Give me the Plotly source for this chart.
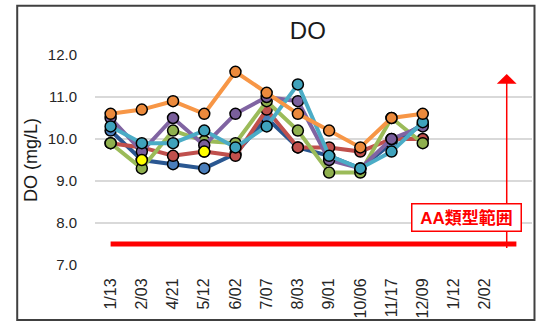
import plotly.graph_objects as go

categories = ["1/13", "2/03", "4/21", "5/12", "6/02", "7/07", "8/03", "9/01",
              "10/06", "11/17", "12/09", "1/12", "2/02"]

site_blue = [10.2, 9.5, 9.4, 9.3, 9.65, 10.5, 9.8, 9.6, 9.3, 9.9, 10.35, None, None]
site_red = [9.9, 9.8, 9.6, 9.7, 9.6, 10.7, 9.8, 9.8, 9.7, 10.0, 10.0, None, None]
site_green = [9.9, 9.3, 10.2, 9.95, 9.9, 10.9, 10.2, 9.2, 9.2, 10.5, 9.9, None, None]
site_purple = [10.5, 9.7, 10.5, 9.85, 10.6, 11.0, 10.9, 9.5, 9.3, 10.0, 10.3, None, None]
site_cyan = [10.3, 9.9, 9.9, 10.2, 9.8, 10.3, 11.3, 9.6, 9.3, 9.7, 10.4, None, None]
site_orange = [10.6, 10.7, 10.9, 10.6, 11.6, 11.1, 10.6, 10.2, 9.8, 10.5, 10.6, None, None]

flag_x = ["2/03", "5/12"]
flag_y = [9.5, 9.7]

standard_value = 7.5
standard_label = "AA類型範囲"

FONT = "Liberation Sans, Arial, Noto Sans CJK JP"

series = [
    (site_blue, "#2A5791", "#4A7EBB"),
    (site_red, "#C0504D", "#C0504D"),
    (site_green, "#9BBB59", "#8FB04E"),
    (site_purple, "#8064A2", "#7A5F9C"),
    (site_cyan, "#4BACC6", "#3FA2BC"),
    (site_orange, "#F79646", "#EC8A3C"),
]

fig = go.Figure()
for vals, lc, mc in series:
    fig.add_trace(go.Scatter(
        x=categories, y=vals, mode="lines+markers",
        line=dict(color=lc, width=4),
        marker=dict(size=11, color=mc, line=dict(color="black", width=1.5)),
        showlegend=False, connectgaps=False))

fig.add_trace(go.Scatter(
    x=flag_x, y=flag_y, mode="markers",
    marker=dict(size=11, color="#FFFF00", line=dict(color="black", width=1.5)),
    showlegend=False))

# standard line
fig.add_shape(type="line", xref="x", yref="y", x0=0, x1=13,
              y0=standard_value, y1=standard_value,
              line=dict(color="#FF0000", width=5))

# outer border
fig.add_shape(type="rect", xref="paper", yref="paper",
              x0=-0.178, x1=1.0057, y0=-0.262, y1=1.235,
              line=dict(color="#404040", width=2), fillcolor="rgba(0,0,0,0)")

# arrow
fig.add_annotation(x=12.69, y=11.55, ax=12.69, ay=7.37, xref="x", yref="y",
                   axref="x", ayref="y", text="", showarrow=True,
                   arrowhead=1, arrowsize=2.2, arrowwidth=1.5,
                   arrowcolor="#FF0000")

fig.add_annotation(x=11.4, y=8.12, xref="x", yref="y", text="<b>" + standard_label + "</b>",
                   showarrow=False, font=dict(family=FONT, size=17, color="#FF0000"),
                   bgcolor="white", bordercolor="#FF0000", borderwidth=1.5,
                   borderpad=3, width=102, height=20)

# y axis title
fig.add_annotation(x=-0.1465, y=0.5, xref="paper", yref="paper", text="DO (mg/L)",
                   textangle=-90, showarrow=False, xanchor="center", yanchor="middle",
                   font=dict(family=FONT, size=18, color="#1a1a1a"))

fig.update_layout(
    width=540, height=326,
    margin=dict(l=95, r=8, t=55, b=58.5),
    paper_bgcolor="white", plot_bgcolor="white",
    title=dict(text="DO", x=0.57, xref="container", y=1 - 31 / 326,
               yref="container", xanchor="center", yanchor="middle",
               font=dict(family=FONT, size=24, color="#1a1a1a")),
    font=dict(family=FONT, color="#262626"),
)

fig.update_xaxes(type="category", categoryorder="array", categoryarray=categories,
                 range=[-0.5, 13.5], tickangle=-90, showgrid=False, showline=False,
                 tickfont=dict(size=16, family=FONT, color="#262626"),
                 ticks="outside", ticklen=6, tickcolor="rgba(0,0,0,0)")

fig.update_yaxes(range=[7, 12], dtick=1, tickformat=".1f", showgrid=True,
                 gridcolor="#D9D9D9", gridwidth=1.5, zeroline=False, showline=False,
                 tickfont=dict(size=15, family=FONT, color="#262626"),
                 ticks="outside", ticklen=14, tickcolor="rgba(0,0,0,0)")

fig.write_html("out.html", config={"displayModeBar": False},
               post_script="document.body.style.margin='0';document.body.style.padding='0';")
